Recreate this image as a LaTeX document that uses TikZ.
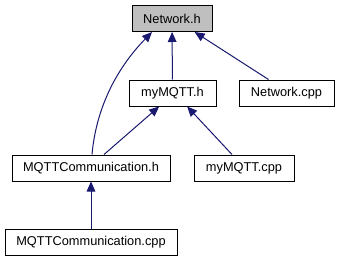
\documentclass[tikz,border=0pt]{standalone}
\usepackage{fontspec}
\setmainfont{Liberation Sans}
\usetikzlibrary{arrows.meta}

\definecolor{edgeblue}{RGB}{25,25,112}
\definecolor{headgray}{RGB}{191,191,191}

\begin{document}
\begin{tikzpicture}[x=0.75pt,y=0.75pt,yscale=-1,xscale=1,
  file/.style={draw=black,line width=0.75pt,fill=white,minimum height=19.5pt,inner sep=0pt,font=\fontsize{9.6}{11}\selectfont},
  dep/.style={draw=edgeblue,line width=0.75pt,-{Triangle[length=7.5pt,width=6.5pt]}}]
\useasboundingbox (0,0) rectangle (340,261);

% Text Node
\node [file,fill=headgray,minimum width=60pt] (neth) at (172,18.5) {Network.h};
% Text Node
\node [file,minimum width=65.25pt] (myh) at (172.5,93) {myMQTT.h};
% Text Node
\node [file,minimum width=71.25pt] (ncpp) at (286.5,93) {Network.cpp};
% Text Node
\node [file,minimum width=118.5pt] (mch) at (91,168) {MQTTCommunication.h};
% Text Node
\node [file,minimum width=75pt] (mycpp) at (244,168) {myMQTT.cpp};
% Text Node
\node [file,minimum width=129pt] (mccpp) at (91,242) {MQTTCommunication.cpp};

%Straight Lines
\draw [dep] (myh) -- (neth);
\draw [dep] ([xshift=-13.5pt]ncpp.north) -- ([xshift=17pt]neth.south);
%Curve
\draw [dep] ([xshift=0.75pt]mch.north) .. controls (96,110) and (115,70) .. ([xshift=-15pt]neth.south);
%Straight Lines
\draw [dep] ([xshift=9.75pt]mch.north) -- ([xshift=-10pt]myh.south);
\draw [dep] ([xshift=-9pt]mycpp.north) -- ([xshift=11pt]myh.south);
\draw [dep] (mccpp) -- (mch);

\end{tikzpicture}
\end{document}
